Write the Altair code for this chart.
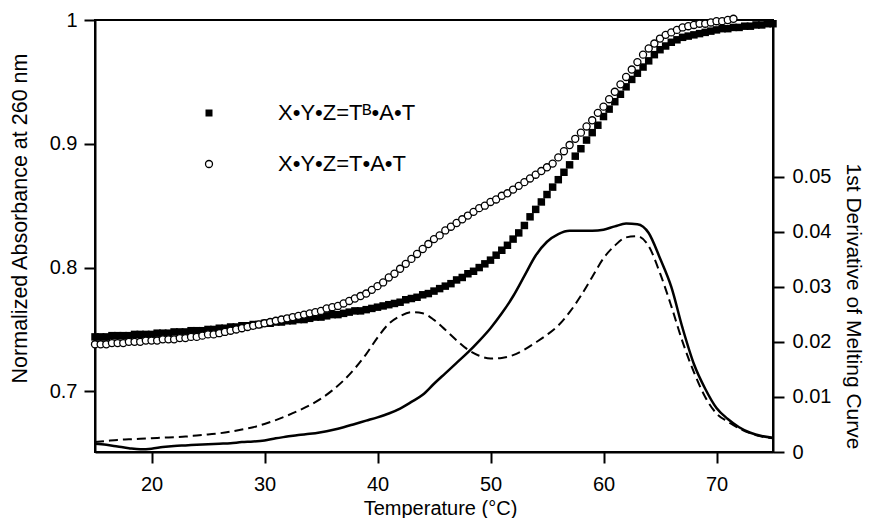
import altair as alt
import pandas as pd

# ---------------- data ----------------
# melting curves, sampled every 0.5 degC
temp_sq = [t / 2 for t in range(30, 151)]          # 15.0 ... 75.0
abs_tb_at = [
    0.744, 0.744, 0.744, 0.745, 0.745, 0.745, 0.745, 0.746, 0.746, 0.746,
    0.746, 0.747, 0.747, 0.747, 0.748, 0.748, 0.748, 0.749, 0.749, 0.749,
    0.750, 0.750, 0.751, 0.751, 0.752, 0.752, 0.753, 0.753, 0.754, 0.754,
    0.755, 0.755, 0.756, 0.756, 0.757, 0.757, 0.758, 0.758, 0.759, 0.760,
    0.760, 0.761, 0.762, 0.762, 0.763, 0.764, 0.765, 0.765, 0.766, 0.767,
    0.768, 0.769, 0.770, 0.771, 0.772, 0.774, 0.775, 0.776, 0.778, 0.779,
    0.781, 0.783, 0.785, 0.787, 0.790, 0.792, 0.795, 0.797, 0.800, 0.803,
    0.806, 0.810, 0.814, 0.818, 0.823, 0.828, 0.834, 0.841, 0.847, 0.853,
    0.859, 0.865, 0.871, 0.877, 0.883, 0.890, 0.896, 0.903, 0.909, 0.915,
    0.922, 0.928, 0.934, 0.940, 0.946, 0.952, 0.957, 0.962, 0.967, 0.972,
    0.976, 0.979, 0.982, 0.984, 0.986, 0.987, 0.988, 0.989, 0.990, 0.991,
    0.992, 0.993, 0.993, 0.994, 0.994, 0.995, 0.995, 0.996, 0.996, 0.997,
    0.997,
]

temp_ci = [t / 2 for t in range(30, 144)]          # 15.0 ... 71.5
abs_t_at = [
    0.738, 0.738, 0.738, 0.739, 0.739, 0.739, 0.740, 0.740, 0.740, 0.741,
    0.741, 0.741, 0.742, 0.742, 0.742, 0.743, 0.743, 0.744, 0.744, 0.745,
    0.746, 0.746, 0.747, 0.748, 0.749, 0.750, 0.751, 0.752, 0.753, 0.754,
    0.755, 0.756, 0.757, 0.758, 0.759, 0.760, 0.761, 0.762, 0.763, 0.764,
    0.765, 0.767, 0.768, 0.769, 0.771, 0.773, 0.775, 0.777, 0.779, 0.782,
    0.785, 0.788, 0.792, 0.795, 0.799, 0.803, 0.807, 0.811, 0.815, 0.819,
    0.823, 0.826, 0.830, 0.833, 0.836, 0.839, 0.842, 0.845, 0.848, 0.850,
    0.853, 0.855, 0.858, 0.860, 0.863, 0.866, 0.869, 0.872, 0.875, 0.878,
    0.881, 0.884, 0.889, 0.894, 0.899, 0.904, 0.909, 0.914, 0.919, 0.925,
    0.930, 0.936, 0.942, 0.948, 0.954, 0.960, 0.966, 0.972, 0.977, 0.981,
    0.985, 0.988, 0.990, 0.992, 0.994, 0.995, 0.996, 0.997, 0.997, 0.998,
    0.999, 0.999, 1.000, 1.001,
]

# first derivatives, sampled every 1 degC
temp_der = list(range(15, 76))
der_tb_at = [
    0.0015, 0.0013, 0.0010, 0.0007, 0.0005, 0.0006, 0.0009, 0.0011, 0.0012, 0.0013,
    0.0014, 0.0015, 0.0016, 0.0018, 0.0019, 0.0021, 0.0025, 0.0028, 0.0031, 0.0033,
    0.0036, 0.0040, 0.0045, 0.0051, 0.0057, 0.0063, 0.0070, 0.0079, 0.0091, 0.0104,
    0.0124, 0.0143, 0.0162, 0.0181, 0.0202, 0.0225, 0.0252, 0.0283, 0.0320, 0.0357,
    0.0382, 0.0396, 0.0402, 0.0402, 0.0402, 0.0404, 0.0410, 0.0415, 0.0414, 0.0398,
    0.0352, 0.0300, 0.0225, 0.0160, 0.0115, 0.0080, 0.0060, 0.0045, 0.0035, 0.0029,
    0.0026,
]
der_t_at = [
    0.0018, 0.0020, 0.0022, 0.0023, 0.0024, 0.0025, 0.0026, 0.0027, 0.0028, 0.0030,
    0.0032, 0.0034, 0.0037, 0.0041, 0.0045, 0.0051, 0.0058, 0.0066, 0.0075, 0.0085,
    0.0097, 0.0112, 0.0130, 0.0152, 0.0178, 0.0208, 0.0233, 0.0247, 0.0254, 0.0252,
    0.0240, 0.0222, 0.0203, 0.0186, 0.0175, 0.0170, 0.0171, 0.0176, 0.0186, 0.0199,
    0.0213, 0.0230, 0.0254, 0.0284, 0.0318, 0.0352, 0.0375, 0.0390, 0.0392, 0.0374,
    0.0325, 0.0265, 0.0200, 0.0145, 0.0100, 0.0070, 0.0055, 0.0043, 0.0034, 0.0028,
    0.0025,
]

x_ticks = [20, 30, 40, 50, 60, 70]
left_ticks = [0.7, 0.8, 0.9, 1.0]
right_ticks = [0.0, 0.01, 0.02, 0.03, 0.04, 0.05]
legend_labels = ["X•Y•Z=Tᴮ•A•T", "X•Y•Z=T•A•T"]

# ---------------- chart ----------------
W, H = 678, 432
FONT = "Liberation Sans"

df_sq = pd.DataFrame({"T": temp_sq, "A": abs_tb_at})
df_ci = pd.DataFrame({"T": temp_ci, "A": abs_t_at})
df_d1 = pd.DataFrame({"T": temp_der, "D": der_tb_at})
df_d2 = pd.DataFrame({"T": temp_der, "D": der_t_at})

x_enc = alt.X(
    "T:Q",
    scale=alt.Scale(domain=[15, 75], nice=False, zero=False),
    axis=alt.Axis(values=x_ticks, title="Temperature (°C)", labelPadding=11,
                  titleX=W / 2 + 6, titleY=56, titleBaseline="middle"),
)
yl_scale = alt.Scale(domain=[0.651, 1.0], nice=False, zero=False)
yl_axis = alt.Axis(values=left_ticks, format="~g", title="Normalized Absorbance at 260 nm",
                   orient="left", labelPadding=7, titleAngle=-90, titleFontSize=21.5,
                   titleX=-75, titleY=198, titleBaseline="middle")
yr_scale = alt.Scale(domain=[0, 0.0785], nice=False, zero=False)
yr_axis = alt.Axis(values=right_ticks, format="~g", title="1st Derivative of Melting Curve",
                   orient="right", labelPadding=8, titleAngle=90, titleFontSize=21,
                   titleX=79, titleY=286, titleBaseline="middle")

squares = alt.Chart(df_sq).mark_point(
    shape="square", filled=True, color="black", size=56, opacity=1
).encode(x=x_enc, y=alt.Y("A:Q", scale=yl_scale, axis=yl_axis))

circles = alt.Chart(df_ci).mark_point(
    shape="circle", filled=True, fill="white", stroke="black", strokeWidth=1.3, size=50, opacity=1
).encode(x=x_enc, y=alt.Y("A:Q", scale=yl_scale, axis=yl_axis))

solid = alt.Chart(df_d1).mark_line(
    color="black", strokeWidth=2.5, interpolate="monotone"
).encode(x=x_enc, y=alt.Y("D:Q", scale=yr_scale, axis=yr_axis))

dashed = alt.Chart(df_d2).mark_line(
    color="black", strokeWidth=2, strokeDash=[9, 5], interpolate="monotone"
).encode(x=x_enc, y=alt.Y("D:Q", scale=yr_scale, axis=yr_axis))

left_layer = alt.layer(squares, circles)
right_layer = alt.layer(solid, dashed)

leg_df = pd.DataFrame({"label": legend_labels})
leg_sq = alt.Chart(leg_df).transform_filter(alt.datum.label == legend_labels[0]).mark_point(
    shape="square", filled=True, color="black", size=49, opacity=1
).encode(x=alt.value(114), y=alt.value(93))
leg_ci = alt.Chart(leg_df).transform_filter(alt.datum.label == legend_labels[1]).mark_point(
    shape="circle", filled=True, fill="white", stroke="black", strokeWidth=1.3, size=49, opacity=1
).encode(x=alt.value(114), y=alt.value(144))
leg_t1 = alt.Chart(leg_df).transform_filter(alt.datum.label == legend_labels[0]).mark_text(
    align="left", baseline="middle", font=FONT, fontSize=22, color="black"
).encode(x=alt.value(183), y=alt.value(93), text="label:N")
leg_t2 = alt.Chart(leg_df).transform_filter(alt.datum.label == legend_labels[1]).mark_text(
    align="left", baseline="middle", font=FONT, fontSize=22, color="black"
).encode(x=alt.value(183), y=alt.value(144), text="label:N")

chart = alt.layer(
    left_layer, right_layer, leg_sq, leg_ci, leg_t1, leg_t2
).resolve_scale(y="independent").properties(
    width=W, height=H,
    autosize=alt.AutoSizeParams(type="none"),
    padding={"left": 87, "top": 12, "right": 93, "bottom": 66},
).configure_view(
    stroke="black", strokeWidth=2
).configure_axis(
    grid=False,
    labelFont=FONT, labelFontSize=20, labelColor="black",
    titleFont=FONT, titleFontSize=20, titleFontWeight="normal", titleColor="black",
    domainColor="black", domainWidth=2,
    tickColor="black", tickWidth=2, tickSize=11,
)

chart.save("out.html", embed_options={"renderer": "svg", "actions": False})
